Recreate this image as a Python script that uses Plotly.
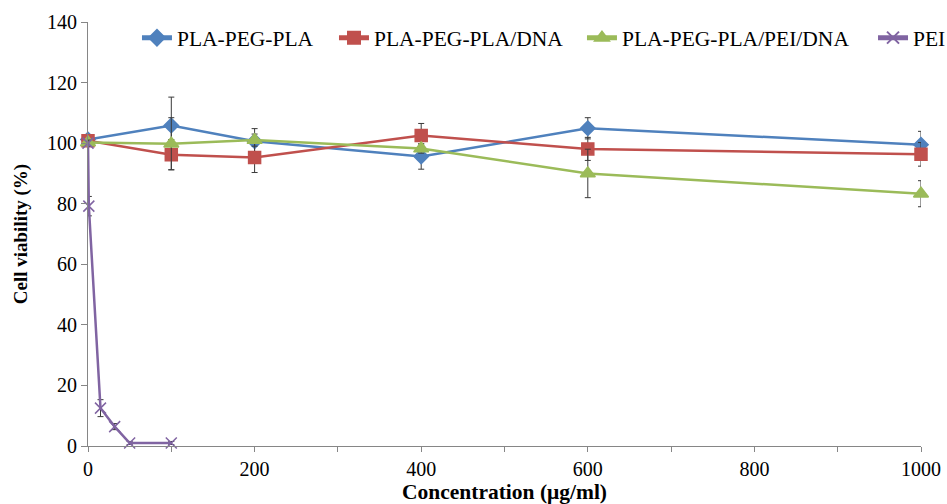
import plotly.graph_objects as go

conc = [0, 100, 200, 400, 600, 1000]
pei_conc = [0, 1, 15, 32, 50, 100]

pla_peg_pla = [101.2, 105.8, 100.6, 95.6, 104.9, 99.5]
pla_peg_pla_err = [1.0, 9.4, 4.2, 4.2, 3.5, 4.4]

pla_dna = [100.8, 96.2, 95.3, 102.5, 98.1, 96.3]
pla_dna_err = [1.0, 5.0, 5.0, 4.0, 3.8, 3.9]

pla_pei_dna = [100.2, 99.8, 101.0, 98.2, 90.0, 83.3]
pla_pei_dna_err = [1.0, 8.6, 2.0, 1.5, 8.0, 4.3]

pei = [100.0, 79.2, 12.5, 6.4, 1.0, 1.0]
pei_err = [1.0, 3.2, 2.8, 1.0, 0.5, 0.5]

names = ["PLA-PEG-PLA", "PLA-PEG-PLA/DNA", "PLA-PEG-PLA/PEI/DNA", "PEI"]
colors = ["#4F81BD", "#C0504D", "#9BBB59", "#8064A2"]
symbols = ["diamond", "square", "triangle-up", "x-thin"]
sizes = [11, 12, 13, 11]
legend_ids = ["legend", "legend2", "legend3", "legend4"]
legend_x = [0.0588, 0.2953, 0.593, 0.9424]

series = [
    (conc, pla_peg_pla, pla_peg_pla_err),
    (conc, pla_dna, pla_dna_err),
    (conc, pla_pei_dna, pla_pei_dna_err),
    (pei_conc, pei, pei_err),
]

fig = go.Figure()
for (xs, ys, es), name, c, s, sz, lg in zip(series, names, colors, symbols, sizes, legend_ids):
    fig.add_trace(go.Scatter(
        x=xs, y=ys, name=name, mode="lines+markers",
        line=dict(color=c, width=2.5),
        marker=dict(symbol=s, size=sz, color=c,
                    line=dict(color=c, width=1.5)),
        error_y=dict(type="data", array=es, visible=True,
                     color="#3a3a3a", thickness=1, width=3),
        cliponaxis=False,
        legend=lg,
    ))

font_family = "Liberation Serif"

legend_common = dict(orientation="h", xanchor="left", y=0.963, yanchor="middle",
                     font=dict(family=font_family, size=21.5, color="black"),
                     bgcolor="rgba(0,0,0,0)", itemwidth=30, borderwidth=0,
                     itemsizing="constant")

fig.update_layout(
    width=947, height=504,
    margin=dict(l=88, r=26, t=22, b=58, autoexpand=False),
    paper_bgcolor="white", plot_bgcolor="white",
    font=dict(family=font_family, size=20, color="black"),
    showlegend=True,
)
layout_legends = {}
for lg, lx in zip(legend_ids, legend_x):
    layout_legends[lg] = dict(legend_common, x=lx)
fig.update_layout(**layout_legends)

fig.update_xaxes(
    range=[0, 1000], dtick=200, tick0=0, automargin=False,
    showgrid=False, zeroline=False,
    showline=True, linecolor="#868686", linewidth=1,
    ticks="outside", ticklen=5, tickcolor="#868686",
    minor=dict(dtick=100, ticks="outside", ticklen=5, tickcolor="#868686", showgrid=False),
    tickfont=dict(family=font_family, size=20),
    title=dict(text="<b>Concentration (μg/ml)</b>", font=dict(family=font_family, size=21.5), standoff=9),
)
fig.update_yaxes(
    range=[0, 140], dtick=20, automargin=False,
    showgrid=False, zeroline=False,
    showline=True, linecolor="#868686", linewidth=1,
    ticks="outside", ticklen=6, tickcolor="#868686",
    tickfont=dict(family=font_family, size=20),
    title=dict(text="<b>Cell viability (%)</b>", font=dict(family=font_family, size=19), standoff=14),
)

fig.write_html("out.html")
